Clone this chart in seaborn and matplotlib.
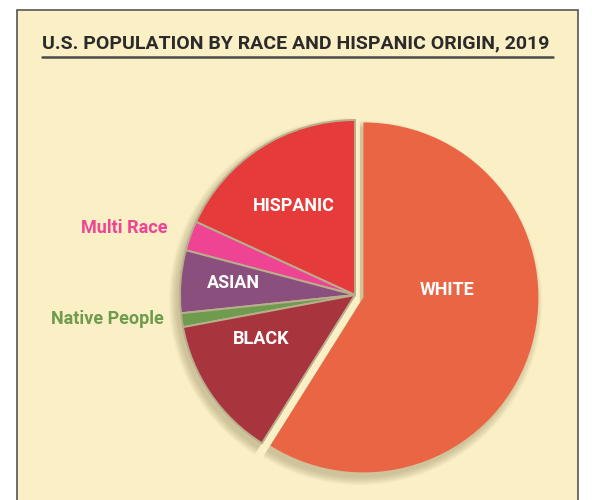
import numpy as np
import seaborn as sns
import matplotlib.pyplot as plt
from matplotlib.patches import Rectangle
from matplotlib.lines import Line2D

# Population share by group, 2019 (percent)
groups = ["HISPANIC", "Multi Race", "ASIAN", "Native People", "BLACK", "WHITE"]
shares = [18.5, 2.8, 5.9, 1.3, 13.4, 60.1]
colors = ["#E63B3B", "#EF4393", "#8A4F7D", "#6E9B4E", "#A8343E", "#EA6544"]
explode = [0, 0, 0, 0, 0, 0.05]

sns.set_style("white")
plt.rcParams["font.family"] = ["Roboto", "DejaVu Sans"]

bg = "#FBEFC5"
fig = plt.figure(figsize=(5.92, 5.00), dpi=100)
fig.patch.set_facecolor("white")

# beige panel with thin border
fig.add_artist(Rectangle((17 / 592, -0.01), 561 / 592, 1 - 10 / 500 + 0.01,
                         transform=fig.transFigure, facecolor=bg,
                         edgecolor="#555555", linewidth=1.2, zorder=0))

fig.text(0.5, 1 - 43 / 500, "U.S. POPULATION BY RACE AND HISPANIC ORIGIN, 2019",
         ha="center", va="center", fontsize=14, fontweight="bold", color="#2B2B2B")
fig.add_artist(Line2D([42 / 592, 553 / 592], [1 - 57 / 500] * 2,
                      transform=fig.transFigure, color="#4A4A4A", linewidth=1.8))

# pie axes
cx, cy, r = 355 / 592, 1 - 295 / 500, 175
w, h = 400 / 592, 400 / 500
ax = fig.add_axes([cx - w / 2, cy - h / 2, w, h])
ax.set_facecolor("none")

# soft drop shadow: stacked translucent copies, slightly offset down-left
for k in range(8):
    sw, _ = ax.pie(shares, colors=["#6F6842"] * len(shares), explode=explode,
                   startangle=90, counterclock=True, radius=1.0 + 0.006 * k,
                   center=(-0.02, -0.03),
                   wedgeprops=dict(linewidth=0, alpha=0.045))

wedges, _ = ax.pie(shares, colors=colors, explode=explode, startangle=90,
                   counterclock=True,
                   wedgeprops=dict(edgecolor="#B9AE8C", linewidth=1.4))
wedges[-1].set_edgecolor("none")

lim = 200 / r
ax.set_xlim(-lim, lim)
ax.set_ylim(-lim, lim)
ax.set_aspect("equal")
ax.axis("off")

# label styles: (radius, angle shift, color, ha)
label_style = {
    "HISPANIC": (0.62, 2, "white", "center"),
    "Multi Race": (1.14, 0, "#EF4393", "right"),
    "ASIAN": (0.70, -1, "white", "center"),
    "Native People": (1.10, -1, "#6E9B4E", "right"),
    "BLACK": (0.59, -9, "white", "center"),
    "WHITE": (0.48, 21, "white", "center"),
}
for wdg, name in zip(wedges, groups):
    rad, shift, col, ha = label_style[name]
    ang = np.deg2rad((wdg.theta1 + wdg.theta2) / 2 + shift)
    x0, y0 = wdg.center
    ax.text(x0 + rad * np.cos(ang), y0 + rad * np.sin(ang), name,
            ha=ha, va="center", color=col, fontsize=13, fontweight="bold")

plt.savefig("out.png", dpi=100, facecolor=fig.get_facecolor())
